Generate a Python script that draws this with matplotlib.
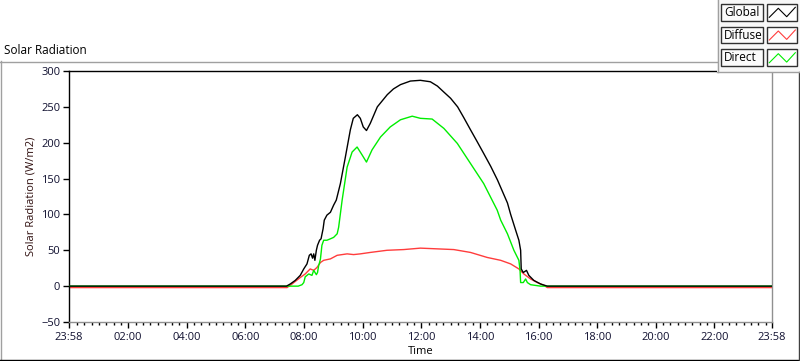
import matplotlib
matplotlib.use("Agg")
import matplotlib.pyplot as plt
import numpy as np
from matplotlib.lines import Line2D
from matplotlib.patches import Rectangle

# ----- data (clock hours, W/m2) -----
global_t = [-0.033, 7.40, 7.53, 7.70, 7.87, 7.99, 8.10, 8.18, 8.24, 8.29, 8.33, 8.37,
            8.42, 8.46, 8.53, 8.58, 8.65, 8.69, 8.78, 8.90, 9.01, 9.10, 9.24, 9.41,
            9.58, 9.68, 9.82, 9.92, 10.02, 10.13, 10.26, 10.50, 10.68, 10.84, 11.05,
            11.29, 11.63, 11.97, 12.31, 12.55, 12.76, 13.00, 13.24, 13.45, 13.68,
            13.90, 14.13, 14.37, 14.60, 14.94, 15.05, 15.22,
            15.33, 15.39, 15.41, 15.48, 15.59, 15.67, 15.84, 16.07, 16.30, 23.967]
global_v = [0, 0, 3, 8, 15, 24, 31, 43, 45, 39, 45, 36,
            50, 57, 64, 66, 80, 92, 99, 103, 113, 120, 143, 180,
            218, 234, 239, 234, 222, 217, 227, 250, 259, 267, 275,
            281, 286, 287, 285, 279, 271, 262, 250, 235, 218,
            202, 185, 167, 148, 116, 100, 78,
            64, 50, 24, 19, 22, 15, 8, 3, 0, 0]

direct_t = [-0.033, 7.80, 7.93, 7.99, 8.04, 8.16, 8.27, 8.33, 8.42, 8.46, 8.50, 8.53,
            8.56, 8.61, 8.67, 8.78, 8.90, 9.01, 9.13, 9.18, 9.24, 9.30, 9.47, 9.64,
            9.81, 9.98, 10.13, 10.32, 10.61, 10.94, 11.29, 11.69, 11.97, 12.37,
            12.77, 13.23, 13.68, 14.13, 14.59, 14.71, 14.94, 15.16, 15.33, 15.37,
            15.39, 15.48, 15.56, 15.62, 15.73, 16.07, 23.967]
direct_v = [0, 0, 2, 5, 13, 17, 15, 22, 16, 19, 29, 33,
            38, 57, 64, 64, 66, 68, 73, 82, 101, 120, 166, 187,
            194, 183, 173, 190, 208, 222, 232, 237, 234, 233,
            220, 199, 171, 143, 106, 92, 73, 50, 36, 22,
            5, 5, 10, 5, 2, 0, 0]

diffuse_t = [-0.033, 7.42, 7.59, 7.87, 8.04, 8.21, 8.33, 8.44, 8.56, 8.67, 8.90, 9.13,
             9.47, 9.69, 9.92, 10.26, 10.83, 11.40, 11.97, 12.54, 13.11, 13.68,
             14.25, 14.71, 15.05, 15.33, 15.50, 15.73, 15.96, 16.19, 16.30, 23.967]
diffuse_v = [-2, -2, 3, 12, 17, 24, 22, 26, 33, 36, 38, 43,
             45, 44, 45, 47, 50, 51, 53, 52, 51, 47,
             40, 36, 31, 24, 17, 10, 5, 1, -2, -2]

x_ticks = [-2 / 60] + list(range(2, 24, 2)) + [24 - 2 / 60]
x_labels = ["23:58"] + [f"{h:02d}:00" for h in range(2, 24, 2)] + ["23:58"]
y_ticks = [-50, 0, 50, 100, 150, 200, 250, 300]

series = ["Global", "Diffuse", "Direct"]
colors = {"Global": "black", "Diffuse": "#ff3c3c", "Direct": "#00ee00"}

plt.rcParams["font.family"] = ["Open Sans", "DejaVu Sans"]
plt.rcParams["font.size"] = 8

W, H = 800, 361
fig = plt.figure(figsize=(W / 100, H / 100), dpi=100)


def px(x, y):
    return x / W, 1 - y / H


l, t = px(68.6, 71)
r, b = px(772, 322)
ax = fig.add_axes([l, b, r - l, t - b])

ax.plot(diffuse_t, diffuse_v, color=colors["Diffuse"], lw=1.0, zorder=2)
ax.plot(direct_t, direct_v, color=colors["Direct"], lw=1.0, zorder=3)
ax.plot(global_t, global_v, color=colors["Global"], lw=1.0, zorder=4)

ax.set_xlim(-2 / 60, 24 - 2 / 60)
ax.set_ylim(-50, 300)
ax.set_xticks(x_ticks)
ax.set_xticklabels(x_labels)
ax.set_xticks(np.arange(0.25, 24 - 2 / 60, 0.25), minor=True)
ax.set_yticks(y_ticks)
ax.tick_params(axis="x", which="major", length=4, width=1, pad=3, colors="black")
ax.tick_params(axis="x", which="minor", length=2, width=1)
ax.tick_params(axis="y", length=4, width=1, pad=2)
for lab in ax.get_xticklabels() + ax.get_yticklabels():
    lab.set_color("#101030")

ax.spines["left"].set_color("black")
ax.spines["top"].set_color("black")
ax.spines["right"].set_color("#909090")
ax.spines["bottom"].set_color("#909090")
for s in ax.spines.values():
    s.set_linewidth(1)

ax.set_xlabel("Time", labelpad=2)
ax.set_ylabel("Solar Radiation (W/m2)", labelpad=3, color="#301010")

# ----- panel frame and title -----
def hline(x0, x1, y, color, lw=1):
    fig.add_artist(Line2D([x0 / W, x1 / W], [1 - y / H, 1 - y / H], color=color, lw=lw))


def vline(x, y0, y1, color, lw=1):
    fig.add_artist(Line2D([x / W, x / W], [1 - y0 / H, 1 - y1 / H], color=color, lw=lw))


hline(0, 717, 61.5, "#a0a0a0")
vline(0.5, 61, 360, "#a0a0a0")
hline(0, 800, 359.5, "black")
vline(799.2, 72, 360, "#404040")
fig.text(*px(4, 51), "Solar Radiation", ha="left", va="center", fontsize=8.5)

# ----- legend -----
lx0, ly0 = px(717, 72)
fig.add_artist(Rectangle((lx0, ly0), 1 - lx0, 1 - ly0, transform=fig.transFigure,
                         facecolor="#f7f7f7", edgecolor="none"))
vline(717.5, 0, 72, "#a0a0a0")
hline(717, 800, 72, "#a0a0a0")

zig = [(2, 13.3), (11, 4.3), (19.4, 12.7), (28, 3.3)]
for i, name in enumerate(series):
    ytop = 4 + i * 22.7
    bx0, by0 = px(721.3, ytop + 16.5)
    fig.add_artist(Rectangle((bx0, by0), 41.4 / W, 16.5 / H, transform=fig.transFigure,
                             facecolor="#fbfbfb", edgecolor="#303030", lw=1))
    fig.text(*px(724, ytop + 8.5), name, ha="left", va="center", fontsize=8.5)
    sx0, sy0 = px(767.3, ytop + 16.5)
    fig.add_artist(Rectangle((sx0, sy0), 30 / W, 16.5 / H, transform=fig.transFigure,
                             facecolor="white", edgecolor="#303030", lw=1))
    zx = [(767.3 + p[0]) / W for p in zig]
    zy = [1 - (ytop + p[1]) / H for p in zig]
    fig.add_artist(Line2D(zx, zy, color=colors[name], lw=0.8))

fig.savefig("out.png", dpi=100)
plt.close(fig)
